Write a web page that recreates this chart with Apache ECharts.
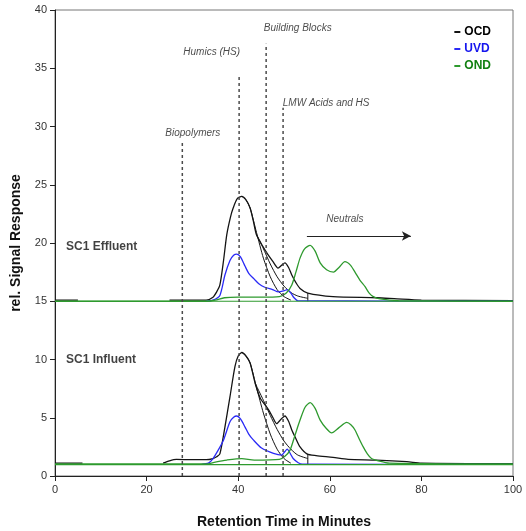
<!DOCTYPE html>
<html><head><meta charset="utf-8">
<script src="https://cdn.jsdelivr.net/npm/echarts@6/dist/echarts.min.js"></script>
<style>html,body{margin:0;padding:0;background:#fff}#c{width:526px;height:531px}</style>
</head><body><div id="c"></div>
<script>
// ---- data (x = retention time in minutes, y = rel. signal response) ----
const xTicks = [0, 20, 40, 60, 80, 100];
const yTicks = [0, 5, 10, 15, 20, 25, 30, 35, 40];

const effOCD = [[0,15.1],[5,15.1],[5.2,'-'],[25,15.1],[33,15.1],[34.5,15.35],[35.3,15.8],[36,16.4],[36.8,18.5],[37.5,20.7],[38.3,22.2],[38.9,23.0],[39.8,23.8],[40.8,24.0],[41.7,23.7],[42.6,23.0],[43.3,21.9],[44,20.7],[45.4,19.7],[46.5,19.0],[47.6,18.4],[48.7,17.85],[49.5,18.1],[50.2,18.3],[51,17.9],[51.7,17.25],[52.6,16.6],[53.5,16.1],[55.2,15.7],[60.7,15.4],[70.3,15.3],[74.7,15.2],[80,15.1],[100,15.05]];
const effFitA = [[40.8,24.0],[41.7,23.7],[42.6,23.0],[44,20.9],[45.5,18.7],[47,17.1],[48.5,16.0],[50,15.4],[51.5,15.1]];
const effFitB = [[44,20.7],[45.4,19.6],[47,18.2],[48.5,17.1],[50,16.3],[51.5,15.75],[53,15.45],[55.2,15.25]];
const effTick = [[55.2,15.7],[55.2,15.0]];
const effUVD = [[33,15.0],[34.5,15.1],[36,15.5],[37.1,17.25],[38.2,18.5],[39,18.95],[39.7,19.05],[40.5,18.8],[41.5,18.0],[42.3,17.4],[43.5,16.9],[44.5,16.5],[45.8,16.2],[47.5,16.0],[48.8,15.8],[50,15.9],[50.7,16.0],[51.5,15.7],[52.2,15.3],[53,15.05],[100,15.0]];
const effOND = [[0,15.0],[33,15.0],[35,15.1],[37,15.3],[40,15.35],[45,15.35],[49,15.4],[50.5,15.7],[51.7,16.4],[52.6,17.5],[53.5,18.7],[54.5,19.5],[55.7,19.8],[56.8,19.3],[57.9,18.3],[59.3,17.7],[60.8,17.5],[62,17.9],[63.3,18.4],[64.5,18.1],[65.5,17.5],[66.6,16.8],[67.7,16.25],[68.6,15.7],[69.5,15.4],[71,15.2],[75,15.05],[100,15.0]];
const effONDbase = [[0,15.0],[100,15.0]];

const infOCD = [[0,1.1],[6,1.1],[6.2,'-'],[23.6,1.1],[25,1.3],[26.5,1.42],[30,1.4],[33,1.4],[34.5,1.5],[35.3,1.65],[36,1.9],[37.1,4.2],[38.2,6.8],[39.3,9.4],[40.0,10.3],[40.8,10.6],[41.7,10.3],[42.6,9.7],[43.7,7.96],[44.8,6.7],[46.6,5.7],[47.6,5.0],[48.4,4.5],[49.4,4.9],[50.2,5.15],[51,4.7],[51.7,3.95],[52.6,3.2],[53.5,2.5],[55,1.9],[57,1.75],[60.7,1.6],[64,1.43],[70.2,1.37],[76.8,1.23],[80,1.1],[100,1.05]];
const infFitA = [[40.8,10.6],[41.7,10.3],[42.6,9.7],[44,7.6],[45.5,5.4],[47,3.6],[48.5,2.3],[50,1.5],[51.5,1.1]];
const infFitB = [[43.7,7.96],[45.5,6.5],[47,5.2],[48.5,4.0],[50,3.0],[51.5,2.3],[53,1.8],[55.2,1.5]];
const infTick = [[55.2,1.9],[55.2,1.0]];
const infUVD = [[32,1.0],[33.5,1.1],[34.5,1.5],[35.6,2.2],[36.8,3.1],[38.2,4.66],[39,5.05],[39.7,5.15],[40.5,4.9],[41.5,4.2],[42.3,3.6],[43.3,3.1],[45.1,2.4],[47.7,1.95],[49.5,1.8],[50.2,2.1],[50.7,2.3],[51.4,1.9],[52,1.5],[53.1,1.14],[54,1.02],[100,1.0]];
const infOND = [[0,1.03],[33,1.03],[35,1.2],[37.5,1.37],[40.8,1.5],[43.5,1.37],[49,1.43],[50.2,1.7],[51.3,2.2],[52.4,3.5],[53.5,4.8],[54.6,5.9],[55.7,6.3],[56.8,5.8],[57.9,4.8],[59.2,4.1],[60.4,3.7],[62,4.15],[63.7,4.6],[64.6,4.4],[65.5,3.95],[66.4,3.2],[67.3,2.5],[68.2,1.9],[69.1,1.5],[70.6,1.3],[73,1.1],[100,1.03]];
const infONDbase = [[0,0.98],[100,0.98]];

// fraction dividers (dashed verticals)
const dividerX = [27.8, 40.2, 46.1, 49.8];
const dividerTop = [28.6, 34.3, 37.1, 31.6];

// annotations
const fractionLabels = ['Biopolymers', 'Humics (HS)', 'Building Blocks', 'LMW Acids and HS', 'Neutrals'];
const fractionLabelPos = [[30.1,29.4],[34.2,36.4],[53.0,38.45],[59.2,32.0],[63.3,22.0]];
const sampleLabels = ['SC1 Effluent', 'SC1 Influent'];
const sampleLabelPos = [[2.4,19.7],[2.4,9.96]];
const neutralsArrow = [[55.0,20.6],[77.7,20.6]];

const colOCD = '#141414', colUVD = '#2a2af5', colOND = '#2e9a2e';

// ---- chart ----
const chart = echarts.init(document.getElementById('c'), null, {renderer: 'canvas'});
const font = 'Liberation Sans, Arial, sans-serif';

function line(name, data, color, width, z) {
  return {name: name, type: 'line', data: data, showSymbol: false, symbol: 'none',
    smooth: 0.25, lineStyle: {color: color, width: width}, itemStyle: {color: color},
    z: z || 3, silent: true, animation: false, connectNulls: false};
}

const series = [];
series.push(line('', effFitA, colOCD, 1, 2));
series.push(line('', effFitB, colOCD, 1, 2));
series.push(Object.assign(line('', effTick, colOCD, 1, 2), {smooth: false}));
series.push(line('', infFitA, colOCD, 1, 2));
series.push(line('', infFitB, colOCD, 1, 2));
series.push(Object.assign(line('', infTick, colOCD, 1, 2), {smooth: false}));
series.push(line('OCD', effOCD, colOCD, 1.3, 3));
series.push(line('OCD', infOCD, colOCD, 1.3, 3));
series.push(line('UVD', effUVD, colUVD, 1.3, 4));
series.push(line('UVD', infUVD, colUVD, 1.3, 4));
series.push(Object.assign(line('', effONDbase, colOND, 1.2, 5), {smooth: false}));
series.push(Object.assign(line('', infONDbase, colOND, 1.2, 5), {smooth: false}));
series.push(line('OND', effOND, colOND, 1.3, 5));
series.push(line('OND', infOND, colOND, 1.3, 5));

dividerX.forEach(function (x, i) {
  series.push({type: 'line', data: [[x, 0], [x, dividerTop[i]]], symbol: 'none', silent: true,
    animation: false, z: 6, lineStyle: {color: '#4a4a4a', width: 1.5, type: [3, 3]}});
});

series.push({type: 'scatter', symbolSize: 0, silent: true, animation: false, z: 10,
  data: fractionLabelPos.map(function (p, i) { return {value: p, name: fractionLabels[i]}; }),
  label: {show: true, position: 'inside', formatter: '{b}', color: '#1a1a1a',
    fontFamily: font, fontStyle: 'italic', fontSize: 10},
  markLine: {silent: true, animation: false, symbol: ['none', 'arrow'], symbolSize: [7, 9],
    label: {show: false}, lineStyle: {color: '#222', width: 1.2, type: 'solid'},
    data: [[{coord: neutralsArrow[0]}, {coord: neutralsArrow[1]}]]}
});
series.push({type: 'scatter', symbolSize: 0, silent: true, animation: false, z: 10,
  data: sampleLabelPos.map(function (p, i) { return {value: p, name: sampleLabels[i]}; }),
  label: {show: true, position: 'right', distance: 0, formatter: '{b}', color: '#111',
    fontFamily: font, fontWeight: 'bold', fontSize: 12}
});

chart.setOption({
  backgroundColor: '#fff',
  animation: false,
  grid: {left: 55, right: 13, top: 10, bottom: 55, show: true, borderColor: '#777', borderWidth: 1,
    containLabel: false, outerBoundsMode: 'none'},
  legend: {
    orient: 'vertical', right: 30, top: 21, itemGap: 5, itemWidth: 6, itemHeight: 2,
    icon: 'rect', selectedMode: false,
    textStyle: {fontFamily: font, fontWeight: 'bold', fontSize: 12, padding: [0, 0, 0, -1]},
    data: [
      {name: 'OCD', textStyle: {color: '#000'}},
      {name: 'UVD', textStyle: {color: '#1515ee'}},
      {name: 'OND', textStyle: {color: '#128012'}}
    ]
  },
  xAxis: {
    type: 'value', min: xTicks[0], max: xTicks[xTicks.length - 1], interval: 20,
    name: 'Retention Time in Minutes', nameLocation: 'middle', nameGap: 39,
    nameTextStyle: {fontFamily: font, fontWeight: 'bold', fontSize: 14, color: '#111'},
    axisLine: {lineStyle: {color: '#222', width: 1}},
    axisTick: {show: true, length: 5, lineStyle: {color: '#222'}},
    axisLabel: {color: '#333', fontFamily: font, fontSize: 11, margin: 8},
    splitLine: {show: false}
  },
  yAxis: {
    type: 'value', min: yTicks[0], max: yTicks[yTicks.length - 1], interval: 5,
    name: 'rel. Signal Response', nameLocation: 'middle', nameGap: 32,
    nameTextStyle: {fontFamily: font, fontWeight: 'bold', fontSize: 14, color: '#111'},
    axisLine: {show: true, lineStyle: {color: '#222', width: 1}},
    axisTick: {show: true, length: 5, lineStyle: {color: '#222'}},
    axisLabel: {color: '#333', fontFamily: font, fontSize: 11, margin: 8},
    splitLine: {show: false}
  },
  series: series
});
</script>
</body></html>
